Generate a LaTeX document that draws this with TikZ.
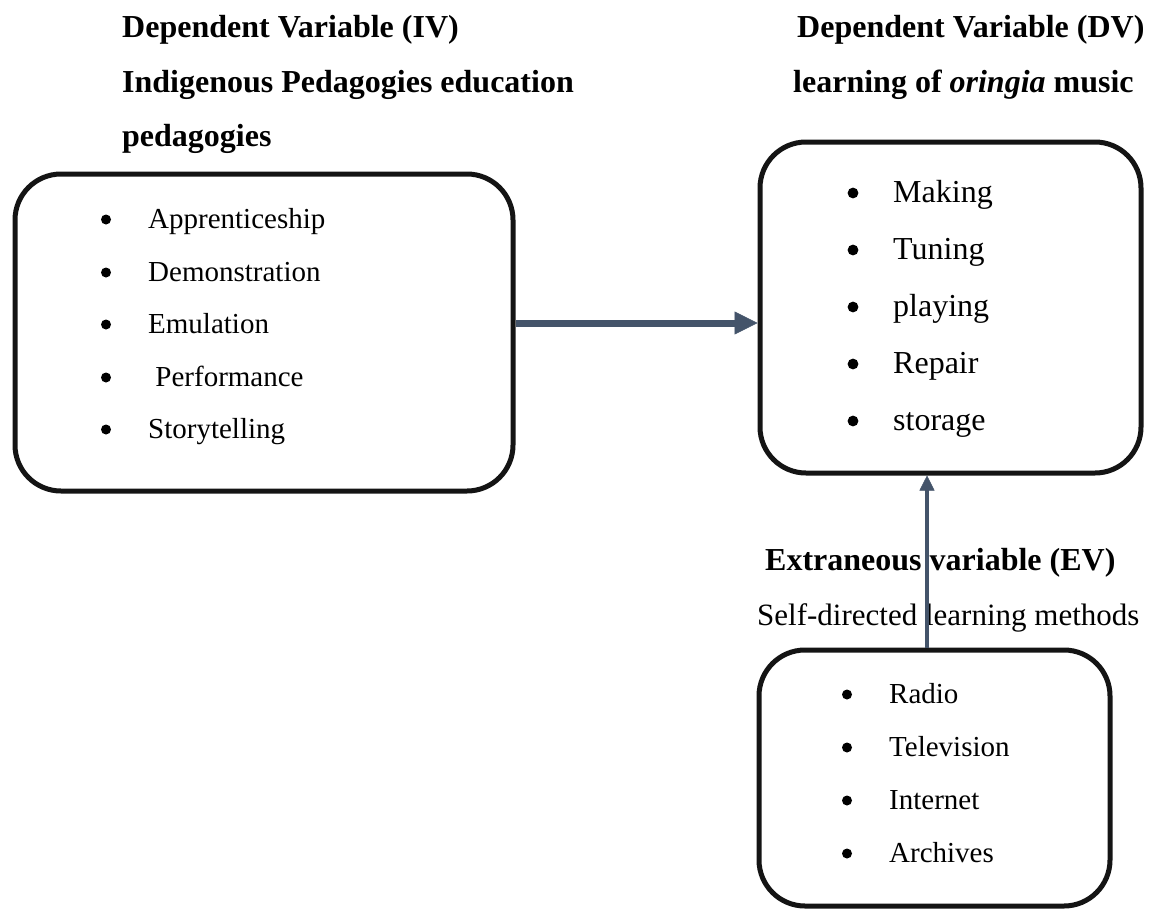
\documentclass[tikz,border=0pt]{standalone}
\usepackage{fontspec}
\setmainfont{Liberation Serif}
\usetikzlibrary{arrows.meta}
\definecolor{arrowblue}{HTML}{44546A}
\begin{document}
\begin{tikzpicture}[x=1pt,y=-1pt,
  box/.style={draw=black!92, line width=5pt, rounded corners=46pt, inner sep=0pt},
  head/.style={anchor=base west, inner sep=0pt, font=\fontsize{32}{38}\selectfont\bfseries},
  sub/.style={anchor=base west, inner sep=0pt, font=\fontsize{31}{37}\selectfont},
  litem/.style={anchor=base west, inner sep=0pt, font=\fontsize{29}{35}\selectfont},
  ritem/.style={anchor=base west, inner sep=0pt, font=\fontsize{32}{38}\selectfont},
  bul/.style={fill=black},
  hlink/.style={draw=arrowblue, line width=7pt, -{Triangle[length=23pt,width=23pt,line width=0.5pt]}},
  vlink/.style={draw=arrowblue, line width=4pt, -{Triangle[length=15pt,width=15pt,line width=0.5pt]}},
]
\useasboundingbox (0,0) rectangle (1159,910);
\fill[white] (0,0) rectangle (1159,910);

% boxes
\node[box, minimum width=498pt, minimum height=317pt] (iv) at (264,332.5) {};
\node[box, minimum width=381pt, minimum height=331pt] (dv) at (950.5,307.5) {};
\node[box, minimum width=351pt, minimum height=256pt] (ev) at (934.5,778) {};

% headings
\node[head] (h1) at (122,37) {Dependent Variable (IV)};
\node[head] (h2) at (122,92) {Indigenous Pedagogies education};
\node[head] (h3) at (122,146) {pedagogies};
\node[head] (h4) at (797,37) {Dependent Variable (DV)};
\node[head] (h5) at (793,92) {learning of \textit{oringia} music};
\node[head] (h6) at (765,570) {Extraneous variable (EV)};
\node[sub] (h7) at (757,625) {Self-directed learning methods};

% left items
\node[litem] (l1) at (148,228) {Apprenticeship};
\node[litem] (l2) at (148,281) {Demonstration};
\node[litem] (l3) at (148,333) {Emulation};
\node[litem] (l4) at (148,386) {\ Performance};
\node[litem] (l5) at (148,438) {Storytelling};
\foreach \y in {228,281,333,386,438} \fill[bul] (106,\y-8.5) circle (5);

% right items
\node[ritem] (r1) at (893,202) {Making};
\node[ritem] (r2) at (893,259) {Tuning};
\node[ritem] (r3) at (893,316) {playing};
\node[ritem] (r4) at (893,373) {Repair};
\node[ritem] (r5) at (893,430) {storage};
\foreach \y in {202,259,316,373,430} \fill[bul] (853,\y-9) circle (5.4);

% bottom items
\node[litem] (b1) at (889,703) {Radio};
\node[litem] (b2) at (889,756) {Television};
\node[litem] (b3) at (889,809) {Internet};
\node[litem] (b4) at (889,862) {Archives};
\foreach \y in {703,756,809,862} \fill[bul] (847,\y-8.5) circle (5);

% connectors
\coordinate (hy) at (0,323);
\coordinate (vx) at (927,0);
\draw[hlink] (iv.east |- hy) -- (dv.west |- hy);
\draw[vlink] (ev.north -| vx) -- (dv.south -| vx);
\end{tikzpicture}
\end{document}
